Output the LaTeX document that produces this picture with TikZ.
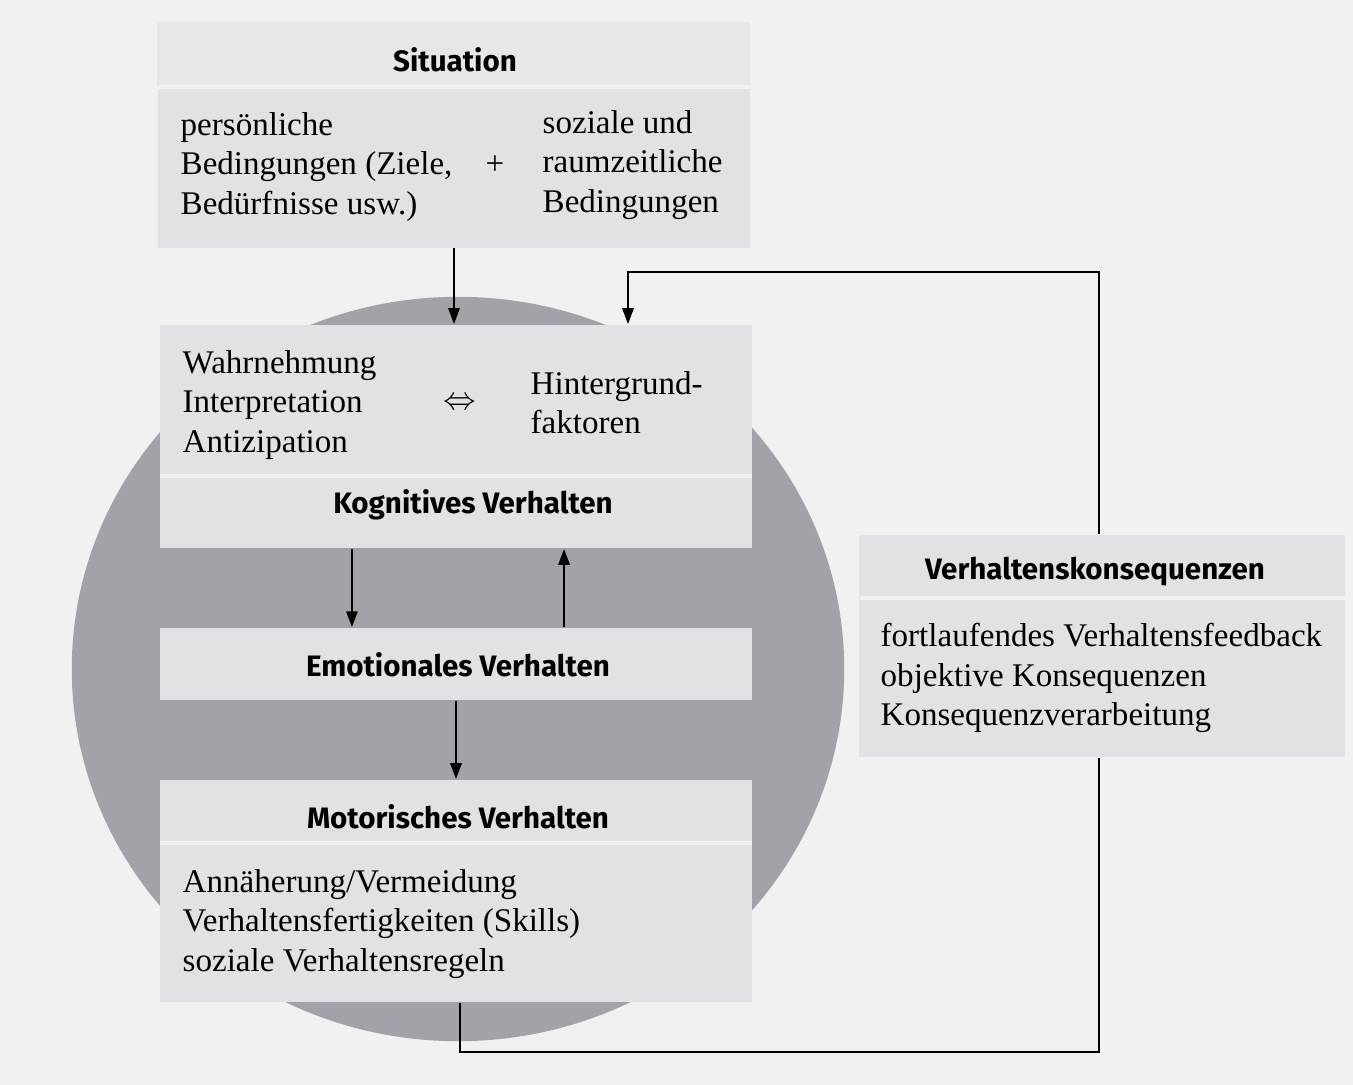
\documentclass[tikz,border=0pt]{standalone}
\usepackage{fontspec}
\setmainfont{Liberation Serif}
\newfontfamily\headfont{Fira Sans}
\usepackage{tikz}
\usetikzlibrary{arrows.meta,calc}
\definecolor{pagegray}{RGB}{241,241,241}
\definecolor{boxgray}{RGB}{226,226,230}
\definecolor{bandgray}{RGB}{231,231,234}
\definecolor{circgray}{RGB}{162,163,168}

\begin{document}
\begin{tikzpicture}[x=0.01cm,y=-0.01cm,
	box/.style={fill=boxgray, inner sep=0, minimum width=5.92cm},
	head/.style={font=\headfont\bfseries\fontsize{8.4}{10}\selectfont, inner sep=0},
	txt/.style={font=\fontsize{9.4}{11.2}\selectfont, align=left, anchor=west, inner sep=0},
	sep/.style={draw=pagegray, line width=1.2pt},
	arr/.style={-{Triangle[length=1.6mm,width=1.1mm]}, line width=0.8pt},
	line/.style={line width=0.8pt}]
				\fill[pagegray] (0,0) rectangle (1353,1085);
				\useasboundingbox (0,0) rectangle (1353,1085);
				\fill[circgray] (458,669) ellipse [x radius=3.86cm, y radius=3.72cm];
				\node[box, minimum height=2.25cm] (sit) at (454,135) {};
				\fill[bandgray] (sit.north west) rectangle (750,87);
				\draw[sep] (158,87) -- (750,87);
				\node[box, minimum height=2.23cm] (kog) at (456,436.5) {};
				\draw[sep] (160,476) -- (752,476);
				\node[box, minimum height=0.72cm] (emo) at (456,664) {};
				\node[box, minimum height=2.22cm] (mot) at (456,891) {};
				\draw[sep] (160,843) -- (752,843);
				\node[box, minimum width=4.85cm, minimum height=2.22cm] (kons) at (1102,646) {};
				\draw[sep] (860,598) -- (1345,598);
				\node[head] (sithead) at (455,60) {Situation};
				\node[txt] (sitl) at (180,167) {persönliche\\Bedingungen (Ziele,\\Bedürfnisse usw.)};
				\node[txt, anchor=center] (plus) at (495,165) {+};
				\node[txt] (sitr) at (542,165) {soziale und\\raumzeitliche\\Bedingungen};
				\node[txt] (kogl) at (182,405) {Wahrnehmung\\Interpretation\\Antizipation};
				\node[txt, anchor=center] (equiv) at (460,404) {$\Leftrightarrow$};
				\node[txt] (kogr) at (530,403) {Hintergrund-\\faktoren};
				\node[head] (koghead) at (473,505) {Kognitives Verhalten};
				\node[head] (emohead) at (458,665) {Emotionales Verhalten};
				\node[head] (mothead) at (458,817) {Motorisches Verhalten};
				\node[txt] (motl) at (182,924) {Annäherung/Vermeidung\\Verhaltensfertigkeiten (Skills)\\soziale Verhaltensregeln};
				\node[head] (konshead) at (1095,572) {Verhaltenskonsequenzen};
				\node[txt] (konsl) at (880,678) {fortlaufendes Verhaltensfeedback\\objektive Konsequenzen\\Konsequenzverarbeitung};
				\coordinate (fbtop) at (628,272);
				\coordinate (fbbot) at (460,1052);
				\draw[arr] (sit.south) -- (sit.south |- kog.north);
				\draw[arr] ([xshift=-1.04cm]kog.south) -- ([xshift=-1.04cm]emo.north);
				\draw[arr] ([xshift=1.08cm]emo.north) -- ([xshift=1.08cm]kog.south);
				\draw[arr] (emo.south) -- (mot.north);
				\draw[line] (fbbot |- mot.south) -- (fbbot) -| ([xshift=-0.03cm]kons.south);
				\draw[arr] ([xshift=-0.03cm]kons.north) |- (fbtop) -- (fbtop |- kog.north);
\end{tikzpicture}
\end{document}
